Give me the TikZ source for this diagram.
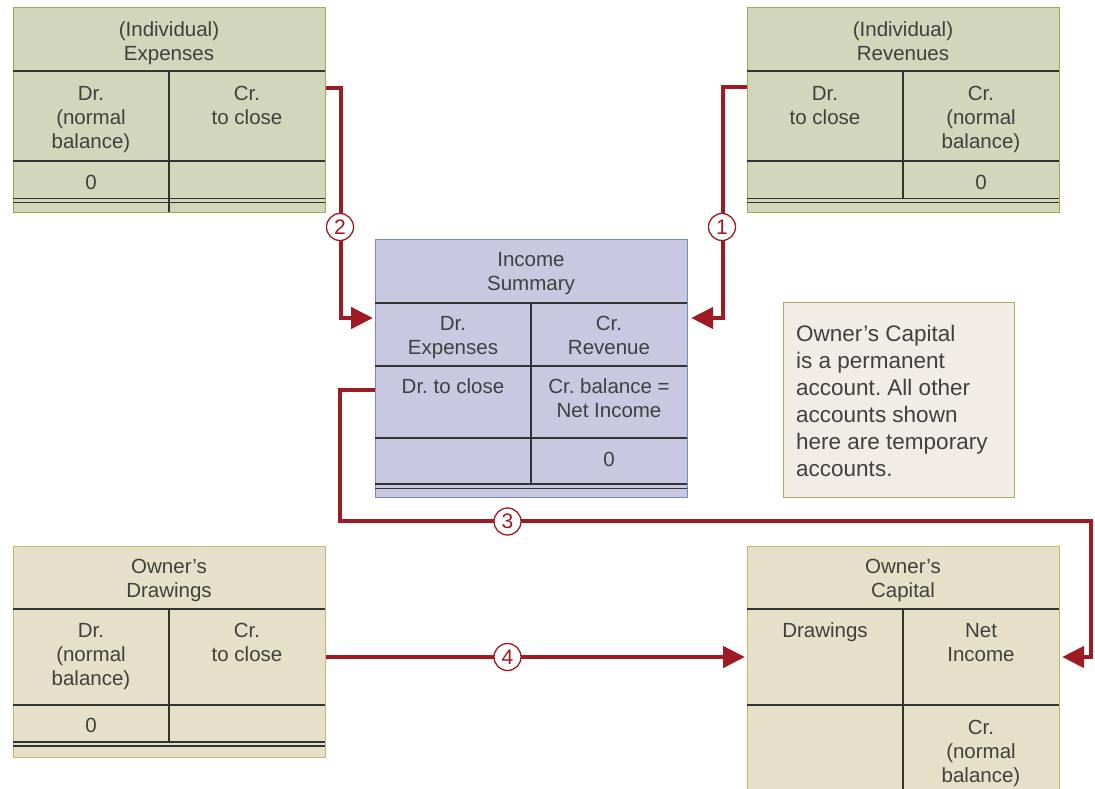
\documentclass[tikz,border=0pt]{standalone}
\usepackage{fontspec}
\setmainfont{Liberation Sans}
\usetikzlibrary{arrows.meta,calc}
\frenchspacing

\definecolor{expfill}{HTML}{D2D6BA}
\definecolor{expedge}{HTML}{9FAA55}
\definecolor{incfill}{HTML}{C8C8E0}
\definecolor{incedge}{HTML}{7C86C0}
\definecolor{ownfill}{HTML}{E6E0C8}
\definecolor{ownedge}{HTML}{C9B46E}
\definecolor{notefill}{HTML}{F0EDE6}
\definecolor{noteedge}{HTML}{BBA85A}
\definecolor{rule}{HTML}{333333}
\definecolor{ink}{HTML}{404040}
\definecolor{flowred}{HTML}{9E1B23}

\tikzset{
  acct/.style={draw=#1, line width=1.1pt, anchor=north west, inner sep=0pt,
               minimum width=312pt},
  grid/.style={draw=rule, line width=1.4pt},
  dbl/.style={draw=rule, line width=1.1pt},
  ctext/.style={text=ink, inner sep=0pt, align=center,
                font=\fontsize{20.5}{24}\selectfont},
  flow/.style={draw=flowred, line width=4.5pt,
               -{Triangle[length=22pt,width=21pt]}},
  num/.style={circle, draw=flowred, line width=1.3pt, fill=white,
              minimum size=27pt, inner sep=0pt, text=flowred,
              font=\fontsize{21}{21}\selectfont},
}

% text block in a cell: #2 = x centre, #3 = cap centre of the first line
\newcommand\celltext[4]{%
  \node[ctext, anchor=north] (#1) at (#2,#3-8.7) {\rule{0pt}{16pt}#4};}

\begin{document}
\begin{tikzpicture}[x=1pt,y=-1pt]
\useasboundingbox (0,0) rectangle (1095,789);
\clip (0,0) rectangle (1095,789);

% ---------- (Individual) Expenses ----------
\node[acct=expedge, fill=expfill, minimum height=205pt] (exp) at (13,7) {};
\draw[grid] (13,71) -- (325,71) (169,71) -- (169,212) (13,161) -- (325,161);
\draw[dbl] (13,198.5) -- (325,198.5) (13,202.5) -- (325,202.5);
\celltext{exp-h}{169}{29}{(Individual)\\Expenses}
\celltext{exp-dr}{91}{93}{Dr.\\(normal\\balance)}
\celltext{exp-cr}{247}{93}{Cr.\\to close}
\node[ctext] (exp-0) at (91,182) {0};

% ---------- (Individual) Revenues ----------
\node[acct=expedge, fill=expfill, minimum height=205pt] (rev) at (747,7) {};
\draw[grid] (747,71) -- (1059,71) (903,71) -- (903,198.5) (747,161) -- (1059,161);
\draw[dbl] (747,198.5) -- (1059,198.5) (747,202.5) -- (1059,202.5);
\celltext{rev-h}{903}{29}{(Individual)\\Revenues}
\celltext{rev-dr}{825}{93}{Dr.\\to close}
\celltext{rev-cr}{981}{93}{Cr.\\(normal\\balance)}
\node[ctext] (rev-0) at (981,182) {0};

% ---------- Income Summary ----------
\node[acct=incedge, fill=incfill, minimum height=258pt] (inc) at (375,239) {};
\draw[grid] (375,303) -- (687,303) (531,303) -- (531,484)
            (375,366) -- (687,366) (375,438) -- (687,438);
\draw[dbl] (375,484) -- (687,484) (375,488.5) -- (687,488.5);
\celltext{inc-h}{531}{259}{Income\\Summary}
\celltext{inc-dr}{453}{323}{Dr.\\Expenses}
\celltext{inc-cr}{609}{323}{Cr.\\Revenue}
\celltext{inc-drc}{453}{386}{Dr. to close}
\celltext{inc-bal}{609}{386}{Cr. balance =\\Net Income}
\node[ctext] (inc-0) at (609,459) {0};

% ---------- Owner's Drawings ----------
\node[acct=ownedge, fill=ownfill, minimum height=211pt] (drw) at (13,546) {};
\draw[grid] (13,609) -- (325,609) (169,609) -- (169,742) (13,705) -- (325,705);
\draw[dbl] (13,742) -- (325,742) (13,746) -- (325,746);
\celltext{drw-h}{169}{566}{Owner’s\\Drawings}
\celltext{drw-dr}{91}{630}{Dr.\\(normal\\balance)}
\celltext{drw-cr}{247}{630}{Cr.\\to close}
\node[ctext] (drw-0) at (91,725) {0};

% ---------- Owner's Capital ----------
\node[acct=ownedge, fill=ownfill, minimum height=270pt] (cap) at (747,546) {};
\draw[grid] (747,609) -- (1059,609) (903,609) -- (903,800) (747,705) -- (1059,705);
\celltext{cap-h}{903}{566}{Owner’s\\Capital}
\celltext{cap-dr}{825}{630}{Drawings}
\celltext{cap-cr}{981}{630}{Net\\Income}
\celltext{cap-bal}{981}{727}{Cr.\\(normal\\balance)}

% ---------- note ----------
\node[draw=noteedge, fill=notefill, line width=1.1pt, anchor=north west,
      inner sep=0pt, minimum width=231pt, minimum height=195pt] (note) at (783,302) {};
\node[text=ink, inner sep=0pt, align=left, anchor=north west,
      font=\fontsize{22.5}{27}\selectfont] (note-txt) at (796,323)
  {\rule{0pt}{18pt}Owner’s Capital\\is a permanent\\account. All other\\accounts shown\\here are temporary\\accounts.};

% ---------- closing entries ----------
% (1) revenues to Income Summary
\draw[flow] ([yshift=-80pt]rev.north west) -- ++(-24,0)
            |- ([xshift=3pt,yshift=-79pt]inc.north east);
% (2) expenses to Income Summary
\draw[flow] ([yshift=-81pt]exp.north east) -- ++(15,0)
            |- ([xshift=-2pt,yshift=-79pt]inc.north west);
% (3) net income to Owner's Capital
\draw[flow] ([yshift=-151pt]inc.north west) -- ++(-35,0) -- ++(0,131)
            -- ++(751,0) |- ([xshift=2pt,yshift=-111pt]cap.north east);
% (4) drawings to Owner's Capital
\draw[flow] ([yshift=-111pt]drw.north east) -- ([xshift=-2pt,yshift=-111pt]cap.north west);

\node[num] (n1) at (722,227) {1};
\node[num] (n2) at (340,227) {2};
\node[num] (n3) at (507.5,521.5) {3};
\node[num] (n4) at (507.5,657) {4};
\end{tikzpicture}
\end{document}
